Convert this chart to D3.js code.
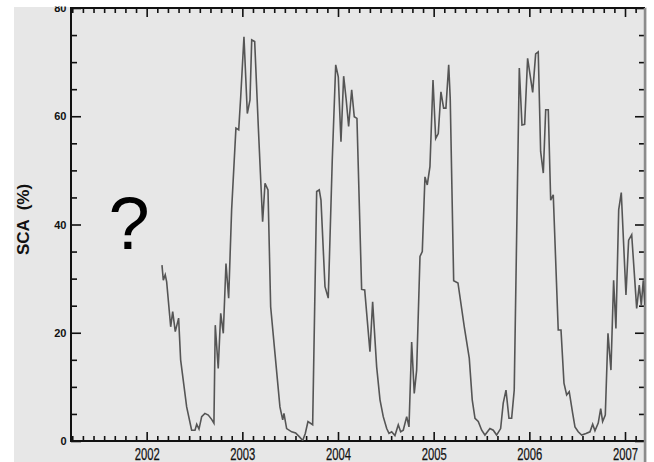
<!DOCTYPE html>
<html>
<head>
<meta charset="utf-8">
<script src="https://cdn.jsdelivr.net/npm/d3@7"></script>
<style>
  html, body { margin: 0; padding: 0; background: #ffffff; }
  svg { display: block; }
</style>
</head>
<body>
<svg id="chart" width="654" height="462"></svg>
<script>
// ---- data (decimal year, snow cover area %) ----
const years = [
  2002.160, 2002.174, 2002.194, 2002.209, 2002.251, 2002.272, 2002.299, 2002.334, 2002.355, 2002.418,
  2002.470, 2002.505, 2002.523, 2002.547, 2002.575, 2002.609, 2002.644, 2002.679, 2002.703, 2002.717,
  2002.748, 2002.774, 2002.801, 2002.829, 2002.857, 2002.888, 2002.933, 2002.962, 2002.983, 2003.017,
  2003.052, 2003.080, 2003.098, 2003.129, 2003.167, 2003.212, 2003.237, 2003.268, 2003.296, 2003.341,
  2003.393, 2003.422, 2003.435, 2003.463, 2003.516, 2003.557, 2003.595, 2003.631, 2003.658, 2003.686,
  2003.735, 2003.777, 2003.804, 2003.822, 2003.864, 2003.898, 2003.940, 2003.976, 2004.003, 2004.031,
  2004.059, 2004.086, 2004.111, 2004.143, 2004.170, 2004.198, 2004.247, 2004.279, 2004.334, 2004.362,
  2004.404, 2004.439, 2004.473, 2004.509, 2004.533, 2004.561, 2004.595, 2004.630, 2004.655, 2004.682,
  2004.718, 2004.742, 2004.770, 2004.797, 2004.822, 2004.857, 2004.881, 2004.909, 2004.933, 2004.961,
  2004.993, 2005.021, 2005.048, 2005.076, 2005.104, 2005.128, 2005.157, 2005.173, 2005.209, 2005.254,
  2005.320, 2005.372, 2005.403, 2005.432, 2005.466, 2005.502, 2005.536, 2005.588, 2005.623, 2005.658,
  2005.700, 2005.727, 2005.756, 2005.787, 2005.815, 2005.842, 2005.895, 2005.923, 2005.951, 2005.982,
  2006.035, 2006.066, 2006.093, 2006.118, 2006.146, 2006.171, 2006.198, 2006.223, 2006.250, 2006.302,
  2006.331, 2006.362, 2006.390, 2006.417, 2006.453, 2006.477, 2006.511, 2006.547, 2006.592, 2006.634,
  2006.662, 2006.686, 2006.720, 2006.746, 2006.766, 2006.794, 2006.822, 2006.853, 2006.881, 2006.905,
  2006.934, 2006.961, 2007.010, 2007.038, 2007.070, 2007.122, 2007.149, 2007.170, 2007.191, 2007.209
];
const sca = [
  32.5, 29.7, 30.7, 29.4, 21.1, 23.9, 20.2, 22.7, 15.0, 6.3,
  2.0, 2.0, 3.1, 2.2, 4.5, 5.1, 4.8, 4.0, 3.3, 21.4,
  13.4, 23.6, 19.9, 32.8, 26.4, 42.7, 57.8, 57.5, 63.6, 74.7,
  60.5, 63.0, 74.1, 73.8, 58.0, 40.5, 47.6, 46.4, 24.8, 16.2,
  6.3, 3.9, 5.1, 2.3, 1.7, 1.5, 0.8, 0.1, 1.4, 3.6,
  3.0, 46.1, 46.4, 44.5, 28.5, 26.4, 51.9, 69.5, 67.3, 55.3,
  67.4, 63.0, 58.1, 64.9, 59.9, 59.6, 28.0, 27.9, 16.5, 25.7,
  13.7, 7.6, 4.5, 2.3, 1.4, 1.7, 1.0, 3.0, 1.7, 2.0,
  4.5, 2.6, 18.3, 8.8, 13.1, 34.1, 35.0, 48.8, 47.3, 50.7,
  66.7, 55.9, 56.8, 64.5, 61.5, 61.5, 69.5, 63.3, 29.6, 29.2,
  21.1, 15.3, 7.6, 4.2, 3.6, 2.0, 1.1, 2.3, 2.0, 1.1,
  2.3, 7.0, 9.4, 4.2, 4.2, 9.4, 68.9, 58.4, 58.5, 70.7,
  64.4, 71.5, 71.9, 53.5, 49.5, 61.2, 61.2, 44.5, 45.5, 20.5,
  20.5, 10.7, 8.5, 9.1, 5.1, 2.6, 1.7, 1.1, 1.4, 1.7,
  3.1, 1.9, 3.3, 6.0, 3.6, 4.8, 19.9, 13.1, 29.7, 20.8,
  42.7, 45.9, 27.0, 37.1, 38.1, 24.5, 28.8, 25.1, 29.7, 25.1
];
const yearTicks = [2002, 2003, 2004, 2005, 2006, 2007];
const yearLabels = ["2002", "2003", "2004", "2005", "2006", "2007"];
const yMajorTicks = [0, 20, 40, 60, 80];
const yTitle = "SCA  (%)";
const note = "?";

// ---- layout ----
const svg = d3.select("#chart");
const L = 71, R = 645, T = 8, B = 441;

const x = d3.scaleLinear().domain([2001.209, 2007.209]).range([L, R]);
const y = d3.scaleLinear().domain([0, 80]).range([B, T]);

// background panel
svg.append("rect").attr("x", 14).attr("y", 7).attr("width", 633).attr("height", 455)
  .attr("fill", "#e7e7e7");

// minor ticks
const yMinor = d3.range(0, 81, 5).filter(v => v % 20 !== 0);
const xMinor = [];
for (let yr = 2001; yr <= 2007; yr++) {
  for (let k = 1; k < 9; k++) {
    const v = yr + k / 9;
    if (v > x.domain()[0] + 0.005 && v < x.domain()[1]) xMinor.push(v);
  }
}

const axisStyle = g => {
  g.selectAll(".domain").remove();
  g.selectAll(".tick line").attr("stroke", "#111").attr("stroke-width", 1.6);
};

// left axis
svg.append("g").attr("transform", `translate(${L},0)`)
  .call(d3.axisLeft(y).tickValues(yMinor).tickSize(-6).tickFormat(""))
  .call(axisStyle);
svg.append("g").attr("transform", `translate(${L},0)`)
  .call(d3.axisLeft(y).tickValues(yMajorTicks).tickSize(-10).tickFormat(d3.format("d")))
  .call(axisStyle)
  .call(g => g.selectAll(".tick text")
    .attr("x", -4.5).attr("font-family", "Liberation Sans, Arial, sans-serif")
    .attr("font-size", 11).attr("font-weight", "bold").attr("fill", "#111"));

// right axis
svg.append("g").attr("transform", `translate(${R},0)`)
  .call(d3.axisRight(y).tickValues(yMinor).tickSize(-6).tickFormat(""))
  .call(axisStyle);
svg.append("g").attr("transform", `translate(${R},0)`)
  .call(d3.axisRight(y).tickValues(yMajorTicks).tickSize(-10).tickFormat(""))
  .call(axisStyle);

// bottom axis
svg.append("g").attr("transform", `translate(0,${B})`)
  .call(d3.axisBottom(x).tickValues(xMinor).tickSize(-5).tickFormat(""))
  .call(axisStyle);
svg.append("g").attr("transform", `translate(0,${B})`)
  .call(d3.axisBottom(x).tickValues(yearTicks).tickSize(-9).tickFormat((d, i) => yearLabels[i]))
  .call(axisStyle)
  .call(g => g.selectAll(".tick text")
    .attr("y", 18.5).attr("dy", null)
    .attr("font-family", "Liberation Sans, Arial, sans-serif")
    .attr("font-size", 16).attr("fill", "#111")
    .attr("stroke", "#111").attr("stroke-width", 0.25)
    .attr("textLength", 25).attr("lengthAdjust", "spacingAndGlyphs"));

// top axis
svg.append("g").attr("transform", `translate(0,${T})`)
  .call(d3.axisTop(x).tickValues(xMinor).tickSize(-5).tickFormat(""))
  .call(axisStyle);
svg.append("g").attr("transform", `translate(0,${T})`)
  .call(d3.axisTop(x).tickValues(yearTicks).tickSize(-9).tickFormat(""))
  .call(axisStyle);

// frame lines
svg.append("line").attr("x1", L).attr("x2", L).attr("y1", T - 1).attr("y2", B + 1)
  .attr("stroke", "#111").attr("stroke-width", 2);
svg.append("line").attr("x1", L).attr("x2", R).attr("y1", B).attr("y2", B)
  .attr("stroke", "#111").attr("stroke-width", 2);
svg.append("line").attr("x1", L).attr("x2", R).attr("y1", T).attr("y2", T)
  .attr("stroke", "#111").attr("stroke-width", 2);
svg.append("line").attr("x1", R).attr("x2", R).attr("y1", T).attr("y2", 462)
  .attr("stroke", "#8c8c8c").attr("stroke-width", 2.5);

// clip
svg.append("clipPath").attr("id", "plotclip")
  .append("rect").attr("x", L).attr("y", T).attr("width", R - L).attr("height", B - T);

// line
const line = d3.line().x((d, i) => x(years[i])).y(d => y(d));
svg.append("path").datum(sca)
  .attr("clip-path", "url(#plotclip)")
  .attr("d", line)
  .attr("fill", "none").attr("stroke", "#555").attr("stroke-width", 1.6)
  .attr("stroke-linejoin", "miter");

// question mark
svg.append("text").attr("x", 129).attr("y", 249).attr("text-anchor", "middle")
  .attr("font-family", "Liberation Sans, Arial, sans-serif").attr("font-size", 74)
  .attr("fill", "#000").text(note);

// y title
svg.append("text")
  .attr("transform", "translate(29,219.5) rotate(-90)")
  .attr("text-anchor", "middle")
  .style("white-space", "pre")
  .attr("font-family", "Liberation Sans, Arial, sans-serif").attr("font-size", 17)
  .attr("font-weight", "bold").attr("fill", "#111").text(yTitle);

// top white band (figure was cropped)
svg.append("rect").attr("x", 0).attr("y", 0).attr("width", 654).attr("height", 6.5).attr("fill", "#fff");
</script>
</body>
</html>
